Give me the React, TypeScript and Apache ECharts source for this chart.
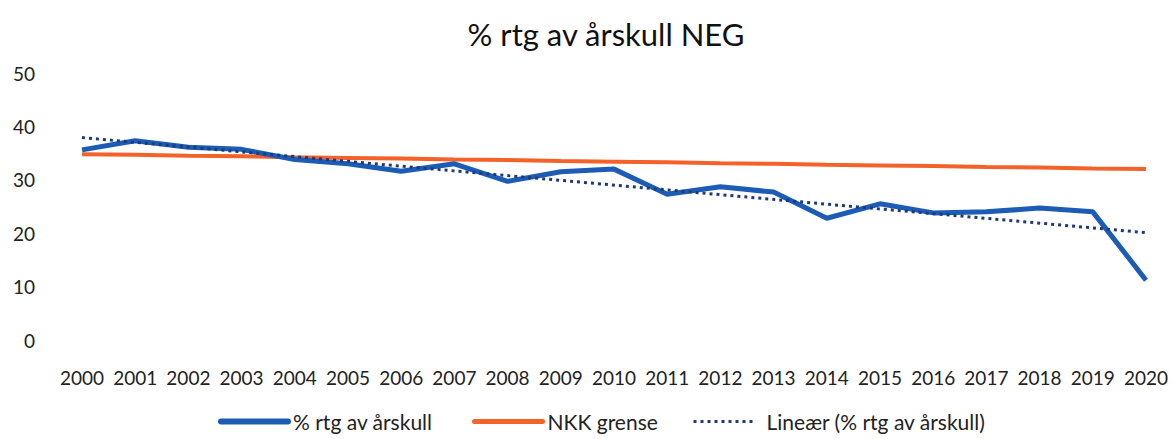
import React, { useEffect, useRef } from "react";
import * as echarts from "echarts";

const years = ["2000","2001","2002","2003","2004","2005","2006","2007","2008","2009","2010","2011","2012","2013","2014","2015","2016","2017","2018","2019","2020"];
const rtgValues = [35.6, 37.3, 36.1, 35.7, 33.8, 33.0, 31.6, 33.0, 29.7, 31.5, 32.0, 27.3, 28.7, 27.7, 22.8, 25.5, 23.8, 24.0, 24.7, 24.0, 11.2];
const nkkGrense = [34.8, 34.7, 34.5, 34.4, 34.2, 34.1, 34.0, 33.8, 33.7, 33.5, 33.4, 33.3, 33.1, 33.0, 32.8, 32.7, 32.6, 32.4, 32.3, 32.1, 32.0];
const trendStart = 37.9;
const trendEnd = 20.1;
const yTicks = [0, 10, 20, 30, 40, 50];

const FONT = "Lato, 'Open Sans', sans-serif";

export default function App() {
  const ref = useRef<HTMLDivElement>(null);
  useEffect(() => {
    if (!ref.current) return;
    const chart = echarts.init(ref.current, undefined, { renderer: "svg" });
    const trend = years.map((_, i) => (i === 0 ? trendStart : i === years.length - 1 ? trendEnd : null));
    const legendBase = {
      top: 411,
      padding: 0,
      itemHeight: 14,
      itemStyle: { opacity: 0 },
      textStyle: { fontFamily: FONT, fontSize: 21, color: "#222" },
    };
    chart.setOption({
      animation: false,
      title: {
        text: "% rtg av årskull NEG",
        left: 601,
        textAlign: "center",
        top: 13,
        textStyle: { fontFamily: FONT, fontSize: 31, fontWeight: "normal", color: "#111" },
      },
      legend: [
        {
          ...legendBase,
          data: ["% rtg av årskull"],
          left: 218,
          itemWidth: 67,
          lineStyle: { width: 6, cap: "round" },
        },
        {
          ...legendBase,
          data: ["NKK grense"],
          left: 472,
          itemWidth: 68,
          lineStyle: { width: 5, cap: "round" },
        },
        {
          ...legendBase,
          data: ["Lineær (% rtg av årskull)"],
          left: 692,
          itemWidth: 60,
          lineStyle: { width: 3, type: [3, 4] },
          textStyle: { ...legendBase.textStyle, padding: [0, 0, 0, 8] },
        },
      ],
      grid: { left: 82, right: 26, top: 73, bottom: 99, containLabel: false },
      xAxis: {
        type: "category",
        data: years,
        boundaryGap: false,
        axisLine: { show: false },
        axisTick: { show: false },
        axisLabel: { fontFamily: FONT, fontSize: 19, color: "#222", margin: 28, interval: 0 },
      },
      yAxis: {
        type: "value",
        min: yTicks[0],
        max: yTicks[yTicks.length - 1],
        interval: 10,
        splitLine: { show: false },
        axisLine: { show: false },
        axisTick: { show: false },
        axisLabel: { fontFamily: FONT, fontSize: 19, color: "#222", margin: 47 },
      },
      series: [
        {
          name: "% rtg av årskull",
          type: "line",
          data: rtgValues,
          symbol: "none",
          color: "#1c5cb4",
          lineStyle: { width: 5, color: "#1c5cb4" },
          z: 3,
        },
        {
          name: "NKK grense",
          type: "line",
          data: nkkGrense,
          symbol: "none",
          color: "#f4622a",
          lineStyle: { width: 4, color: "#f4622a" },
          z: 2,
        },
        {
          name: "Lineær (% rtg av årskull)",
          type: "line",
          data: trend,
          connectNulls: true,
          symbol: "none",
          color: "#1e3a7a",
          lineStyle: { width: 3, color: "#1e3a7a", type: [3, 4] },
          z: 4,
        },
      ],
    });
    return () => chart.dispose();
  }, []);
  return (
    <div
      ref={ref}
      style={{ position: "absolute", left: 0, top: 0, width: 1172, height: 439 }}
    />
  );
}
